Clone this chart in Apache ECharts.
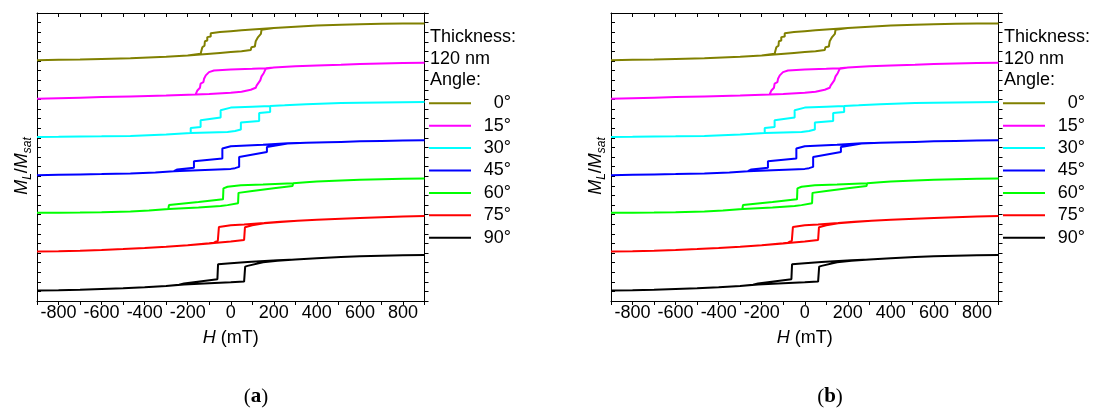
<!DOCTYPE html>
<html><head><meta charset="utf-8">
<script src="https://cdn.jsdelivr.net/npm/echarts@6/dist/echarts.min.js"></script>
<style>html,body{margin:0;padding:0;background:#fff}#c{width:1094px;height:410px}</style>
</head><body><div id="c"></div>
<script>
// ---- data (H in mT, M_L/M_sat) ----
const angles = ['0°','15°','30°','45°','60°','75°','90°'];
const offsets = [12.8, 10.6667, 8.5333, 6.4, 4.2667, 2.1333, 0];
const colors = ['#808000','#ff00ff','#00ffff','#0000ff','#00ff00','#ff0000','#000000'];
const xTickLabels = [-800,-600,-400,-200,0,200,400,600,800];

const asc0 = [[-900,-1.02],[-800,-1.0],[-700,-0.98],[-600,-0.95],[-466,-0.91],[-300,-0.83],[-200,-0.76],[-140,-0.71],[-50,-0.62],[0,-0.57],[50,-0.52],[93,-0.46],[96,-0.3],[112,-0.26],[116,0.03],[124,0.07],[127,0.26],[140,0.44],[143,0.67],[150,0.72],[200,0.76],[300,0.83],[400,0.9],[512,0.95],[600,0.98],[700,1.0],[800,1.01],[900,1.02]];
const desc0 = [[900,1.02],[800,1.01],[700,1.0],[600,0.98],[512,0.95],[400,0.9],[300,0.84],[200,0.77],[150,0.73],[50,0.64],[0,0.59],[-50,0.54],[-93,0.48],[-93,0.29],[-109,0.26],[-109,0.07],[-120,0.03],[-122,-0.21],[-132,-0.3],[-140,-0.67],[-200,-0.76],[-300,-0.83],[-466,-0.91],[-600,-0.95],[-700,-0.98],[-800,-1.0],[-900,-1.02]];

const asc15 = [[-900,-1.03],[-800,-1.0],[-700,-0.97],[-600,-0.94],[-466,-0.9],[-300,-0.85],[-163,-0.79],[-100,-0.76],[0,-0.7],[50,-0.64],[93,-0.53],[116,-0.42],[120,-0.3],[127,-0.19],[137,-0.01],[143,0.21],[153,0.39],[163,0.64],[200,0.7],[300,0.77],[400,0.82],[512,0.86],[600,0.9],[700,0.93],[800,0.95],[900,0.97]];
const desc15 = [[900,0.97],[800,0.95],[700,0.93],[600,0.9],[512,0.86],[400,0.82],[300,0.77],[200,0.7],[163,0.67],[100,0.64],[0,0.6],[-78,0.54],[-101,0.45],[-116,0.27],[-124,0.08],[-127,-0.11],[-140,-0.19],[-143,-0.42],[-155,-0.57],[-163,-0.79],[-300,-0.85],[-466,-0.9],[-600,-0.94],[-700,-0.97],[-800,-1.0],[-900,-1.03]];

const asc30 = [[-900,-1.02],[-800,-1.01],[-700,-0.99],[-600,-0.98],[-466,-0.96],[-300,-0.88],[-186,-0.8],[-100,-0.77],[-15,-0.74],[20,-0.69],[47,-0.61],[47,-0.22],[132,-0.13],[132,0.31],[183,0.37],[183,0.7],[250,0.74],[350,0.8],[512,0.86],[600,0.88],[700,0.9],[800,0.91],[900,0.92]];
const desc30 = [[900,0.92],[800,0.91],[700,0.9],[600,0.88],[512,0.86],[350,0.8],[250,0.74],[183,0.7],[100,0.66],[0,0.61],[-47,0.46],[-47,0.06],[-140,-0.09],[-140,-0.47],[-186,-0.52],[-186,-0.8],[-300,-0.88],[-466,-0.96],[-600,-0.98],[-700,-0.99],[-800,-1.01],[-900,-1.02]];

const asc45 = [[-900,-1.01],[-800,-0.99],[-700,-0.97],[-600,-0.95],[-466,-0.92],[-350,-0.86],[-264,-0.79],[-150,-0.73],[0,-0.66],[20,-0.62],[39,-0.55],[39,0.0],[168,0.28],[168,0.56],[264,0.75],[350,0.79],[450,0.82],[512,0.84],[600,0.87],[700,0.89],[800,0.91],[900,0.93]];
const desc45 = [[900,0.93],[800,0.91],[700,0.89],[600,0.87],[512,0.84],[450,0.82],[350,0.79],[264,0.76],[150,0.68],[0,0.6],[-39,0.47],[-39,-0.08],[-171,-0.23],[-171,-0.6],[-248,-0.69],[-264,-0.79],[-350,-0.86],[-466,-0.92],[-600,-0.95],[-700,-0.97],[-800,-0.99],[-900,-1.01]];

const asc60 = [[-900,-0.97],[-800,-0.96],[-700,-0.95],[-600,-0.93],[-466,-0.9],[-380,-0.84],[-287,-0.76],[-150,-0.67],[-47,-0.59],[-15,-0.54],[34,-0.44],[36,0.14],[100,0.25],[200,0.4],[287,0.52],[290,0.67],[350,0.73],[400,0.77],[512,0.83],[600,0.87],[700,0.9],[800,0.92],[900,0.94]];
const desc60 = [[900,0.94],[800,0.92],[700,0.9],[600,0.87],[512,0.83],[400,0.77],[350,0.73],[290,0.68],[150,0.61],[47,0.57],[-15,0.48],[-34,0.39],[-36,-0.22],[-150,-0.37],[-287,-0.54],[-290,-0.76],[-380,-0.84],[-466,-0.9],[-600,-0.93],[-700,-0.95],[-800,-0.96],[-900,-0.97]];

const asc75 = [[-900,-0.99],[-800,-0.97],[-700,-0.94],[-600,-0.9],[-500,-0.85],[-400,-0.79],[-300,-0.72],[-200,-0.63],[-100,-0.54],[-78,-0.51],[0,-0.43],[62,-0.34],[66,0.36],[100,0.47],[155,0.58],[230,0.66],[310,0.72],[400,0.78],[512,0.84],[600,0.88],[700,0.92],[800,0.96],[900,0.99]];
const desc75 = [[900,0.99],[800,0.96],[700,0.92],[600,0.88],[512,0.84],[400,0.78],[310,0.72],[230,0.67],[155,0.6],[62,0.52],[0,0.47],[-55,0.38],[-59,0.36],[-60,-0.38],[-78,-0.49],[-100,-0.53],[-200,-0.63],[-300,-0.72],[-400,-0.79],[-500,-0.85],[-600,-0.9],[-700,-0.94],[-800,-0.97],[-900,-0.99]];

const asc90 = [[-900,-1.02],[-800,-1.0],[-700,-0.97],[-600,-0.93],[-500,-0.89],[-400,-0.83],[-300,-0.76],[-217,-0.69],[-100,-0.61],[0,-0.56],[62,-0.52],[67,-0.52],[67,0.31],[78,0.35],[150,0.55],[217,0.63],[300,0.7],[400,0.77],[512,0.84],[600,0.88],[700,0.91],[800,0.94],[900,0.96]];
const desc90 = [[900,0.96],[800,0.94],[700,0.91],[600,0.88],[512,0.84],[400,0.77],[300,0.71],[217,0.66],[78,0.57],[0,0.5],[-59,0.44],[-62,-0.39],[-217,-0.63],[-240,-0.7],[-300,-0.76],[-400,-0.83],[-500,-0.89],[-600,-0.93],[-700,-0.97],[-800,-1.0],[-900,-1.02]];

const loops = [[asc0,desc0],[asc15,desc15],[asc30,desc30],[asc45,desc45],[asc60,desc60],[asc75,desc75],[asc90,desc90]];

// ---- chart ----
const FONT = 'Liberation Sans';
const panels = [0, 1];
const DX = 574;
const grid = [], xAxis = [], yAxis = [], series = [], legend = [], graphic = [];

panels.forEach(p => {
  const dx = p * DX;
  grid.push({left: 37 + dx, top: 13, width: 387.5, height: 288, containLabel: false});
  xAxis.push({
    gridIndex: p, type: 'value', min: -900, max: 900, interval: 100, position: 'bottom',
    axisLine: {onZero: false, lineStyle: {color: '#000', width: 1}},
    axisTick: {inside: false, length: 4, lineStyle: {color: '#000', width: 1}},
    axisLabel: {
      margin: 3, color: '#000', fontSize: 18, fontFamily: FONT,
      formatter: v => (xTickLabels.indexOf(v) >= 0 ? String(v) : '')
    },
    splitLine: {show: false},
    name: '{i|H} (mT)', nameLocation: 'middle', nameGap: 28,
    nameTextStyle: {color: '#000', fontSize: 18, fontFamily: FONT,
      rich: {i: {fontStyle: 'italic', fontSize: 18, fontFamily: FONT, color: '#000'}}}
  });
  xAxis.push({
    gridIndex: p, type: 'value', min: -900, max: 900, interval: 100, position: 'top',
    axisLine: {onZero: false, lineStyle: {color: '#000', width: 1}},
    axisTick: {inside: true, length: 4, lineStyle: {color: '#000', width: 1}},
    axisLabel: {show: false}, splitLine: {show: false}
  });
  yAxis.push({
    gridIndex: p, type: 'value', min: -1.6, max: 14.4, interval: 16 / 30, position: 'left',
    axisLine: {show: true, onZero: false, lineStyle: {color: '#000', width: 1}},
    axisTick: {show: true, inside: true, length: 4, lineStyle: {color: '#000', width: 1}},
    axisLabel: {show: false}, splitLine: {show: false}
  });
  yAxis.push({
    gridIndex: p, type: 'value', min: -1.6, max: 14.4, interval: 16 / 30, position: 'right',
    axisLine: {show: true, onZero: false, lineStyle: {color: '#000', width: 1}},
    axisTick: {show: true, inside: false, length: 4, lineStyle: {color: '#000', width: 1}},
    axisLabel: {show: false}, splitLine: {show: false}
  });
  loops.forEach((lp, k) => {
    const pts = lp[0].concat(lp[1]).map(d => [d[0], d[1] + offsets[k]]);
    series.push({
      name: angles[k], type: 'line', xAxisIndex: 2 * p, yAxisIndex: 2 * p,
      data: pts, symbol: 'none', showSymbol: false, smooth: false, clip: true,
      lineStyle: {color: colors[k], width: 2}, itemStyle: {color: colors[k]},
      z: 10 - k
    });
  });
  legend.push({
    data: angles.map(a => ({name: a, icon: 'rect'})), orient: 'vertical', left: 429 + dx, top: 92.3, padding: 0,
    itemWidth: 42, itemHeight: 2, itemGap: 0.4, selectedMode: false,
    formatter: '{r|{name}}',
    textStyle: {color: '#000', fontSize: 18, fontFamily: FONT, lineHeight: 22,
      rich: {r: {width: 35, align: 'right', fontSize: 18, fontFamily: FONT, color: '#000', lineHeight: 22}}}
  });
  [['Thickness:', 37], ['120 nm', 59.5], ['Angle:', 80.5]].forEach(t => {
    graphic.push({type: 'text', x: 430 + dx, y: t[1],
      style: {text: t[0], font: '18px "' + FONT + '"', fill: '#000', align: 'left', verticalAlign: 'middle'}});
  });
  graphic.push({
    type: 'text', x: 22 + dx, y: 166, rotation: Math.PI / 2,
    style: {
      text: '{i|M}{s|L}{n|/}{i|M}{s|sat}', align: 'center', verticalAlign: 'middle', fill: '#000',
      rich: {
        i: {fontStyle: 'italic', fontSize: 18, fontFamily: FONT, lineHeight: 24, fill: '#000'},
        n: {fontSize: 18, fontFamily: FONT, lineHeight: 24, fill: '#000'},
        s: {fontStyle: 'italic', fontSize: 12, fontFamily: FONT, lineHeight: 12, verticalAlign: 'bottom', fill: '#000'}
      }
    }
  });
  graphic.push({
    type: 'text', x: 256 + dx, y: 397,
    style: {
      text: '({b|' + (p === 0 ? 'a' : 'b') + '})', align: 'center', verticalAlign: 'middle', fill: '#000',
      font: '21px "Liberation Serif"',
      rich: {b: {fontWeight: 'bold', fontSize: 21, fontFamily: 'Liberation Serif', fill: '#000'}}
    }
  });
});

const chart = echarts.init(document.getElementById('c'), null, {renderer: 'canvas'});
chart.setOption({
  animation: false, backgroundColor: '#fff',
  grid, xAxis, yAxis, series, legend, graphic
});
</script>
</body></html>
